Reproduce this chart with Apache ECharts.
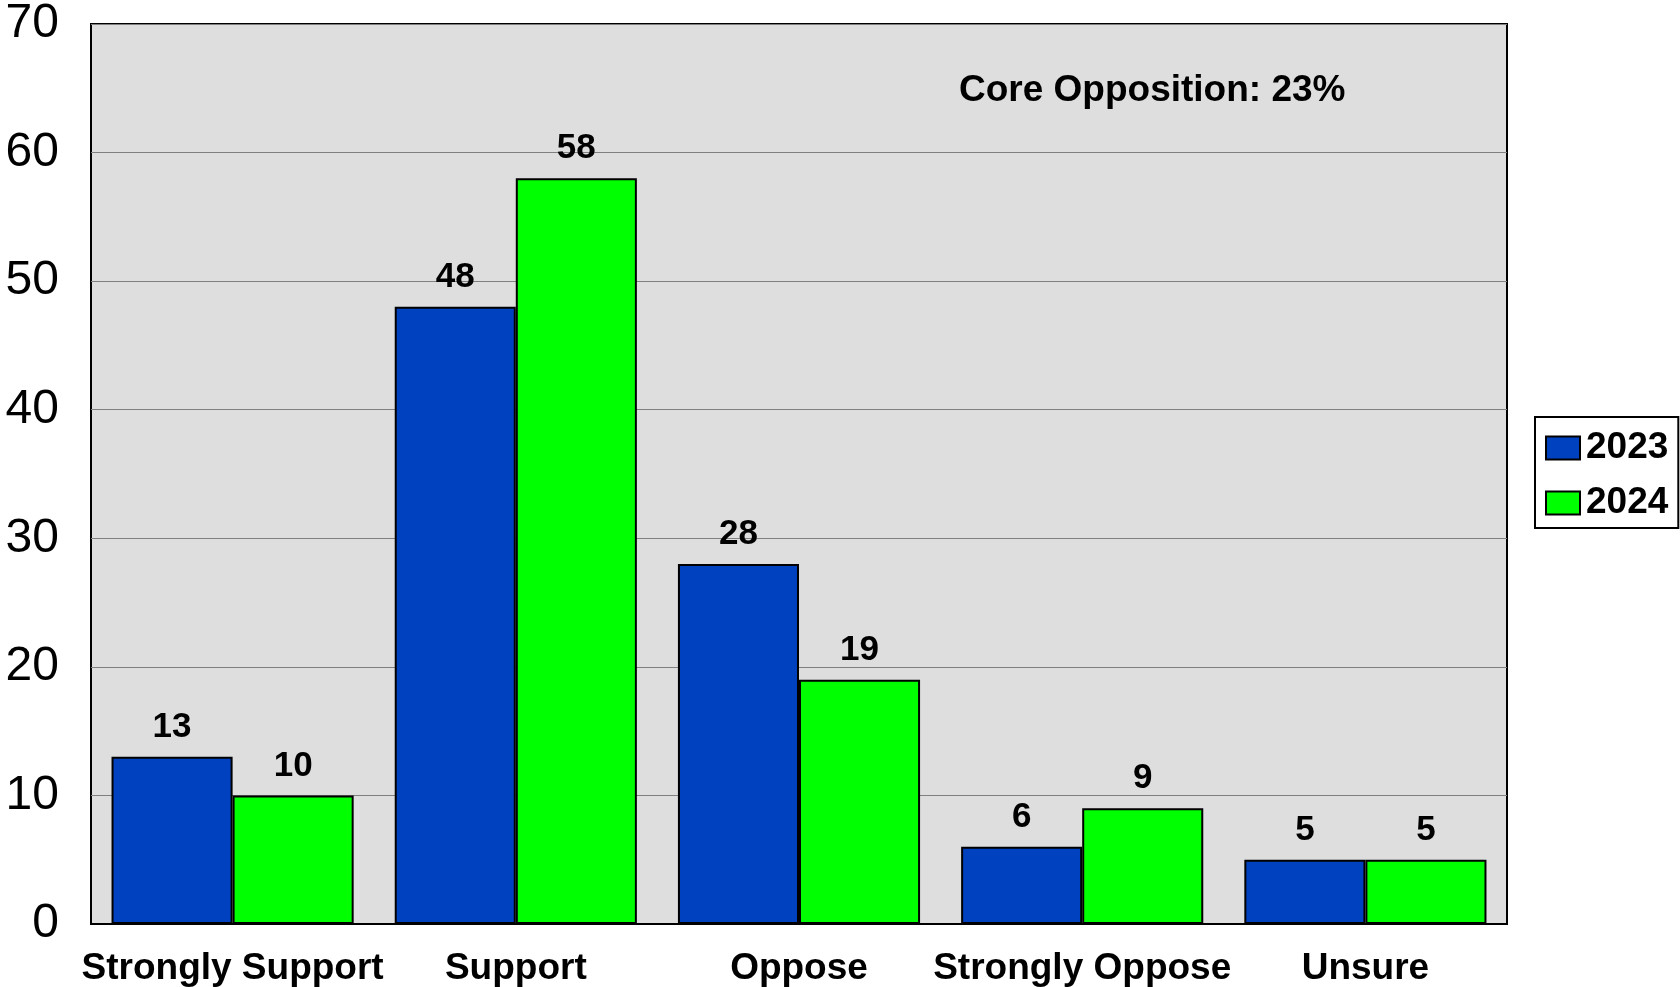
<!DOCTYPE html>
<html>
<head>
<meta charset="utf-8">
<script src="https://cdn.jsdelivr.net/npm/echarts@6/dist/echarts.min.js"></script>
<style>
html,body{margin:0;padding:0;background:#fff;}
#chart{width:1680px;height:987px;}
</style>
</head>
<body>
<div id="chart"></div>
<script>
const categories = ["Strongly Support", "Support", "Oppose", "Strongly Oppose", "Unsure"];
const values2023 = [13, 48, 28, 6, 5];
const values2024 = [10, 58, 19, 9, 5];
const seriesNames = ["2023", "2024"];
const annotation = "Core Opposition: 23%";

const FONT = '"Liberation Sans", Arial, sans-serif';
const chart = echarts.init(document.getElementById('chart'));
const barLabel = {
  show: true, position: 'top', distance: 12,
  fontFamily: FONT, fontWeight: 'bold', fontSize: 35, color: '#000'
};
chart.setOption({
  animation: false,
  backgroundColor: '#fff',
  textStyle: { fontFamily: FONT },
  grid: {
    left: 91, right: 173, top: 21, bottom: 61,
    show: true, backgroundColor: '#DEDEDE', borderColor: '#000', borderWidth: 2
  },
  legend: {
    orient: 'vertical', left: 1535, top: 417,
    padding: [9, 10, 3, 10],
    icon: 'rect',
    itemWidth: 34, itemHeight: 23, itemGap: 11,
    borderColor: '#000', borderWidth: 2, backgroundColor: '#fff',
    textStyle: { fontFamily: FONT, fontWeight: 'bold', fontSize: 37, color: '#000', lineHeight: 44, padding: [0, 0, 0, 1] },
    data: seriesNames
  },
  xAxis: {
    type: 'category', data: categories,
    axisLine: { show: true, lineStyle: { color: '#000', width: 2 } },
    axisTick: { show: false },
    axisLabel: { interval: 0, margin: 26, fontFamily: FONT, fontWeight: 'bold', fontSize: 37, color: '#000' }
  },
  yAxis: {
    type: 'value', min: 0, max: 70, interval: 10,
    axisLine: { show: false }, axisTick: { show: false },
    splitLine: { show: true, lineStyle: { color: '#808080', width: 1 } },
    axisLabel: { margin: 32, fontFamily: FONT, fontSize: 48, color: '#000' }
  },
  graphic: [{
    type: 'text', left: 959, top: 72,
    style: { text: annotation, fontFamily: FONT, fontWeight: 'bold', fontSize: 37, fill: '#000' }
  }],
  series: [
    {
      name: seriesNames[0], type: 'bar', data: values2023,
      barGap: '0%', barCategoryGap: '14.5%',
      itemStyle: { color: '#0041BF', borderColor: '#000', borderWidth: 2 },
      label: barLabel
    },
    {
      name: seriesNames[1], type: 'bar', data: values2024,
      barGap: '0%', barCategoryGap: '14.5%',
      itemStyle: { color: '#00FF00', borderColor: '#000', borderWidth: 2 },
      label: barLabel
    }
  ]
});
</script>
</body>
</html>
